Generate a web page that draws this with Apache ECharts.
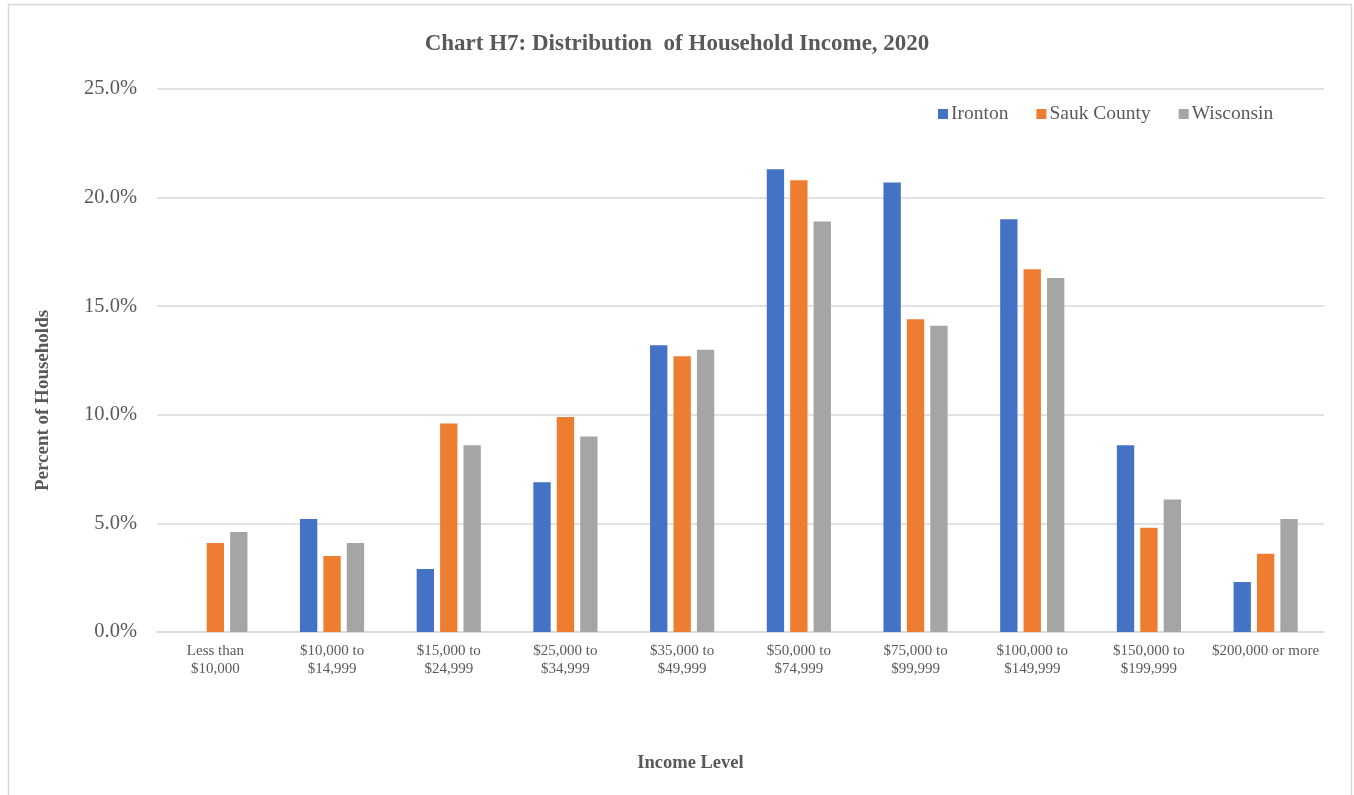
<!DOCTYPE html>
<html>
<head>
<meta charset="utf-8">
<script src="https://cdn.jsdelivr.net/npm/echarts@6/dist/echarts.min.js"></script>
<style>
  html, body { margin:0; padding:0; background:#fff; }
  #chart { width:1354px; height:795px; }
</style>
</head>
<body>
<div id="chart"></div>
<script>
const categories = [
  "Less than\n$10,000", "$10,000 to\n$14,999", "$15,000 to\n$24,999", "$25,000 to\n$34,999",
  "$35,000 to\n$49,999", "$50,000 to\n$74,999", "$75,000 to\n$99,999", "$100,000 to\n$149,999",
  "$150,000 to\n$199,999", "$200,000 or more"
];
const ironton   = [null, 5.2, 2.9, 6.9, 13.2, 21.3, 20.7, 19.0, 8.6, 2.3];
const saukCounty = [4.1, 3.5, 9.6, 9.9, 12.7, 20.8, 14.4, 16.7, 4.8, 3.6];
const wisconsin = [4.6, 4.1, 8.6, 9.0, 13.0, 18.9, 14.1, 16.3, 6.1, 5.2];
const yTicks = [0, 5, 10, 15, 20, 25];

const font = "'Liberation Serif', 'Times New Roman', serif";
const chart = echarts.init(document.getElementById("chart"));

chart.setOption({
  animation: false,
  textStyle: { fontFamily: font },
  title: {
    text: "Chart H7: Distribution  of Household Income, 2020",
    left: "center", top: 28,
    textStyle: { fontFamily: font, fontSize: 23, fontWeight: "bold", color: "#595959" }
  },
  legend: {
    top: 99, left: 933,
    icon: "rect", itemWidth: 10, itemHeight: 10, itemGap: 28,
    textStyle: { fontFamily: font, fontSize: 19.5, color: "#595959", padding: [0, 0, 0, -2] },
    data: ["Ironton", "Sauk County", "Wisconsin"]
  },
  grid: { left: 157, right: 30, top: 89, bottom: 163 },
  xAxis: {
    type: "category",
    data: categories,
    name: "Income Level",
    nameLocation: "middle",
    nameGap: 122,
    nameTextStyle: { fontFamily: font, fontSize: 18.5, fontWeight: "bold", color: "#595959",
      padding: [0, 100, 0, 0] },
    axisLine: { lineStyle: { color: "#d9d9d9", width: 1.5 } },
    axisTick: { show: false },
    axisLabel: { interval: 0, margin: 10, fontSize: 15, lineHeight: 18, color: "#595959", fontFamily: font }
  },
  yAxis: {
    type: "value",
    min: yTicks[0], max: yTicks[yTicks.length - 1], interval: 5,
    name: "Percent of Households",
    nameLocation: "middle",
    nameGap: 104,
    nameTextStyle: { fontFamily: font, fontSize: 19, fontWeight: "bold", color: "#595959",
      padding: [0, 80, 0, 0] },
    axisLine: { show: false },
    axisTick: { show: false },
    splitLine: { lineStyle: { color: "#d9d9d9", width: 1.5 } },
    axisLabel: { margin: 20, fontSize: 20.5, color: "#595959", fontFamily: font,
      formatter: v => v.toFixed(1) + "%" }
  },
  series: [
    { name: "Ironton", type: "bar", data: ironton, itemStyle: { color: "#4472c4" },
      barGap: "35%", barCategoryGap: "45%" },
    { name: "Sauk County", type: "bar", data: saukCounty, itemStyle: { color: "#ed7d31" } },
    { name: "Wisconsin", type: "bar", data: wisconsin, itemStyle: { color: "#a5a5a5" } }
  ],
  graphic: [{
    type: "rect", silent: true,
    shape: { x: 8.5, y: 4.5, width: 1343, height: 800 },
    style: { fill: "none", stroke: "#d9d9d9", lineWidth: 1.5 }
  }]
});

window.addEventListener("resize", () => chart.resize());
</script>
</body>
</html>
